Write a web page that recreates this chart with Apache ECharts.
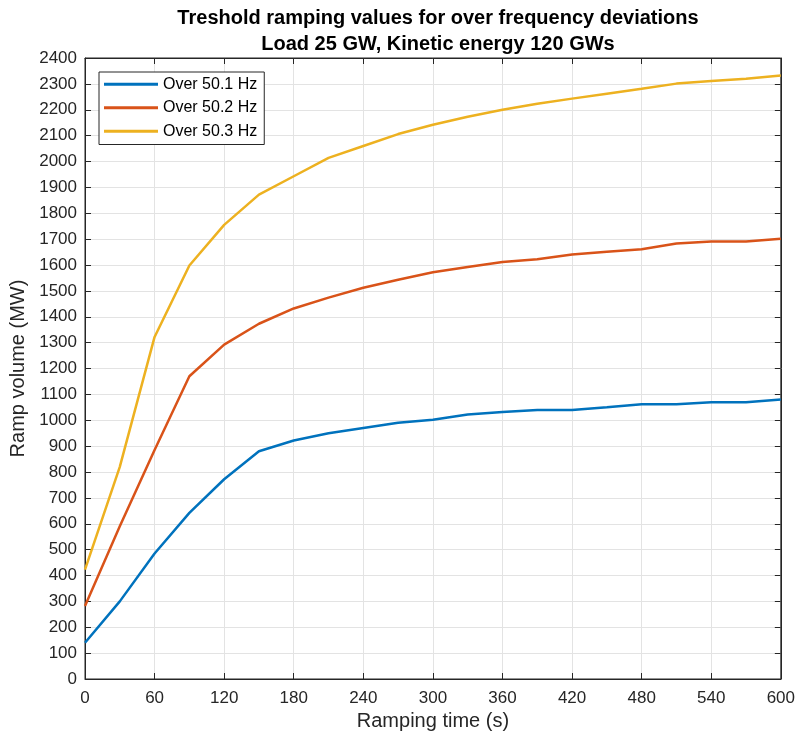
<!DOCTYPE html>
<html><head><meta charset="utf-8">
<script src="https://cdn.jsdelivr.net/npm/echarts@6/dist/echarts.min.js"></script>
<style>html,body{margin:0;padding:0;background:#fff}#c{width:798px;height:737px}</style>
</head><body><div id="c"></div>
<script>
const times = [0,30,60,90,120,150,180,210,240,270,300,330,360,390,420,450,480,510,540,570,600];
const over501 = [140,300,485,642,772,880,922,950,970,990,1002,1022,1032,1040,1040,1050,1062,1062,1070,1070,1080];
const over502 = [282,590,885,1170,1292,1373,1432,1474,1512,1543,1572,1592,1612,1622,1641,1651,1661,1683,1691,1691,1701];
const over503 = [423,820,1322,1598,1755,1872,1943,2014,2060,2106,2142,2173,2200,2223,2243,2262,2281,2301,2311,2320,2332];
const seriesNames = ['Over 50.1 Hz','Over 50.2 Hz','Over 50.3 Hz'];
const colors = ['#0072BD','#D95319','#EDB120'];
const font = '"Liberation Sans", Arial, Helvetica, sans-serif';
const axisCol = '#262626';
function pairs(v){ return times.map((t,i)=>[t,v[i]]); }
const chart = echarts.init(document.getElementById('c'), null, {renderer:'canvas'});
function tick(){ return {show:true,inside:true,length:6,lineStyle:{color:axisCol,width:1}}; }
function line(){ return {show:true,onZero:false,lineStyle:{color:axisCol,width:1}}; }
const lineSeries = [over501,over502,over503].map((v,i)=>({
  name:seriesNames[i], type:'line', data:pairs(v), symbol:'none',
  xAxisIndex:0, yAxisIndex:0,
  lineStyle:{color:colors[i],width:2.5}, itemStyle:{color:colors[i]}
}));
lineSeries.push({name:'_box', type:'line', data:[], xAxisIndex:1, yAxisIndex:1, symbol:'none', silent:true});
chart.setOption({
  animation:false,
  backgroundColor:'#fff',
  color: colors,
  title:{
    text:'Treshold ramping values for over frequency deviations\nLoad 25 GW, Kinetic energy 120 GWs',
    left:433, top:0, textAlign:'center',
    textStyle:{fontFamily:font,fontWeight:'bold',fontSize:20,color:'#000',lineHeight:26}
  },
  grid:{left:85,right:17,top:58,bottom:58,containLabel:false,show:true,borderColor:axisCol,borderWidth:1,backgroundColor:'transparent'},
  legend:{
    orient:'vertical', left:99, top:72,
    backgroundColor:'#fff', borderColor:axisCol, borderWidth:1,
    padding:[4,7,5,5], itemGap:7, itemWidth:54, itemHeight:3,
    icon:'rect',
    textStyle:{fontFamily:font,fontSize:16,color:'#000',lineHeight:16.5},
    data: seriesNames
  },
  xAxis:[
    {type:'value', min:0, max:600, interval:60, position:'bottom',
      axisLine:line(), axisTick:tick(),
      name:'Ramping time (s)', nameLocation:'middle', nameGap:29,
      nameTextStyle:{fontFamily:font,fontSize:20,color:axisCol},
      axisLabel:{fontFamily:font,fontSize:17,color:axisCol,margin:11,formatter:v=>String(v)},
      splitLine:{show:true,lineStyle:{color:'#e3e3e3',width:1}}},
    {type:'value', min:0, max:600, interval:60, position:'top',
      axisLine:line(), axisTick:tick(), axisLabel:{show:false}, splitLine:{show:false}}
  ],
  yAxis:[
    {type:'value', min:0, max:2400, interval:100, position:'left',
      axisLine:line(), axisTick:tick(),
      name:'Ramp volume (MW)', nameLocation:'middle', nameGap:55,
      nameTextStyle:{fontFamily:font,fontSize:20,color:axisCol},
      axisLabel:{fontFamily:font,fontSize:17,color:axisCol,margin:8,formatter:v=>String(v)},
      splitLine:{show:true,lineStyle:{color:'#e3e3e3',width:1}}},
    {type:'value', min:0, max:2400, interval:100, position:'right',
      axisLine:line(), axisTick:tick(), axisLabel:{show:false}, splitLine:{show:false}}
  ],
  series: lineSeries
});
</script></body></html>
